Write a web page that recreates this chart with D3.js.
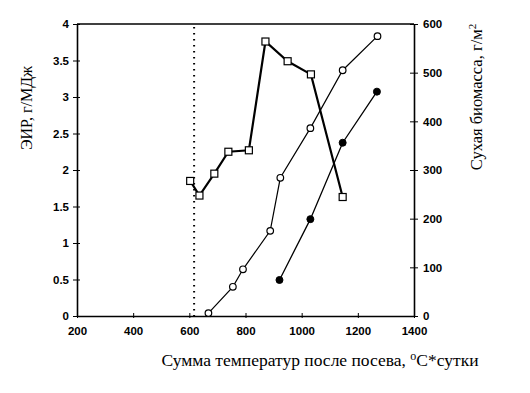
<!DOCTYPE html>
<html><head><meta charset="utf-8">
<script src="https://cdn.jsdelivr.net/npm/d3@7"></script>
<style>body{margin:0;background:#fff}svg{display:block}</style>
</head><body>
<svg id="c" width="530" height="393"></svg>
<script>
// Data
const xTicks = [200, 400, 600, 800, 1000, 1200, 1400];
const leftTicks = [0, 0.5, 1, 1.5, 2, 2.5, 3, 3.5, 4];
const rightTicks = [0, 100, 200, 300, 400, 500, 600];
const sowingLine = 617;
const eirX = [603, 636, 689, 739, 812, 871, 950, 1033, 1146];
const eirY = [1.85, 1.65, 1.95, 2.25, 2.27, 3.76, 3.49, 3.31, 1.63];
const bioOpenX = [668, 755, 791, 888, 924, 1031, 1146, 1270];
const bioOpenY = [6, 60, 96, 175, 284, 386, 505, 575];
const bioFillX = [921, 1031, 1146, 1268];
const bioFillY = [74, 199, 356, 461];
const leftTitle = "ЭИР, г/МДж";
const rightTitle = "Сухая биомасса, г/м";
const xTitle = "Сумма температур после посева, ";

const svg = d3.select("#c");
const L = 77, R = 414, T = 24, B = 316;
const x = d3.scaleLinear().domain([200, 1400]).range([L, R]);
const yL = d3.scaleLinear().domain([0, 4]).range([B, T]);
const yR = d3.scaleLinear().domain([0, 600]).range([B, T]);
const tickFont = "Liberation Sans, Arial, sans-serif";
const serif = "Liberation Serif, Times New Roman, serif";

// frame top
svg.append("line").attr("x1", L).attr("x2", R).attr("y1", T).attr("y2", T)
  .attr("stroke", "#000").attr("stroke-width", 1.6);

function styleAxis(g) {
  g.select(".domain").attr("stroke", "#000").attr("stroke-width", 1.6);
  g.selectAll(".tick text").attr("font-family", tickFont).attr("font-size", 11.5)
    .attr("fill", "#000").attr("font-weight", "bold").attr("stroke", "none");
  g.selectAll(".tick line").attr("stroke", "#000").attr("stroke-width", 1);
}

const gx = svg.append("g").attr("transform", `translate(0,${B})`)
  .call(d3.axisBottom(x).tickValues(xTicks).tickFormat(d3.format("d")).tickSize(0).tickPadding(11).tickSizeOuter(0));
styleAxis(gx);
gx.selectAll(".tick line").attr("y1", -3).attr("y2", 2);

const gl = svg.append("g").attr("transform", `translate(${L},0)`)
  .call(d3.axisLeft(yL).tickValues(leftTicks).tickFormat(d3.format("")).tickSize(0).tickPadding(8).tickSizeOuter(0));
styleAxis(gl);
gl.selectAll(".tick line").attr("x1", -4).attr("x2", 3);

const gr = svg.append("g").attr("transform", `translate(${R},0)`)
  .call(d3.axisRight(yR).tickValues(rightTicks).tickFormat(d3.format("d")).tickSize(0).tickPadding(9).tickSizeOuter(0));
styleAxis(gr);
gr.selectAll(".tick line").attr("x1", -4).attr("x2", 4);

// dotted sowing line
svg.append("line").attr("x1", x(sowingLine)).attr("x2", x(sowingLine))
  .attr("y1", T + 3).attr("y2", B).attr("stroke", "#000").attr("stroke-width", 2)
  .attr("stroke-dasharray", "1.5,4.5");

// biomass open
const openPts = bioOpenX.map((v, i) => [x(v), yR(bioOpenY[i])]);
svg.append("path").attr("d", d3.line()(openPts)).attr("fill", "none")
  .attr("stroke", "#000").attr("stroke-width", 1.2);
svg.selectAll("circle.o").data(openPts).enter().append("circle")
  .attr("cx", d => d[0]).attr("cy", d => d[1]).attr("r", 3.3)
  .attr("fill", "#fff").attr("stroke", "#000").attr("stroke-width", 1.2);

// biomass filled
const fillPts = bioFillX.map((v, i) => [x(v), yR(bioFillY[i])]);
svg.append("path").attr("d", d3.line()(fillPts)).attr("fill", "none")
  .attr("stroke", "#000").attr("stroke-width", 1.3);
svg.selectAll("circle.f").data(fillPts).enter().append("circle")
  .attr("cx", d => d[0]).attr("cy", d => d[1]).attr("r", 3.5)
  .attr("fill", "#000").attr("stroke", "#000");

// EIR squares
const eirPts = eirX.map((v, i) => [x(v), yL(eirY[i])]);
svg.append("path").attr("d", d3.line()(eirPts)).attr("fill", "none")
  .attr("stroke", "#000").attr("stroke-width", 2.2);
svg.selectAll("rect.s").data(eirPts).enter().append("rect")
  .attr("x", d => d[0] - 3.5).attr("y", d => d[1] - 3.5).attr("width", 7).attr("height", 7)
  .attr("fill", "#fff").attr("stroke", "#000").attr("stroke-width", 1.2);

// titles
svg.append("text").attr("transform", "translate(32,108) rotate(-90)")
  .attr("text-anchor", "middle").attr("font-family", serif).attr("font-size", 16)
  .text(leftTitle);
const rt = svg.append("text").attr("transform", "translate(482,97) rotate(-90)")
  .attr("text-anchor", "middle").attr("font-family", serif).attr("font-size", 16.5);
rt.append("tspan").text(rightTitle);
rt.append("tspan").attr("font-size", 11).attr("dy", -6).text("2");

const xt = svg.append("text").attr("x", 320).attr("y", 366)
  .attr("text-anchor", "middle").attr("font-family", serif).attr("font-size", 17.5);
xt.append("tspan").text(xTitle);
xt.append("tspan").attr("font-size", 12).attr("dy", -6).text("o");
xt.append("tspan").attr("dy", 6).text("С*сутки");
</script>
</body></html>
